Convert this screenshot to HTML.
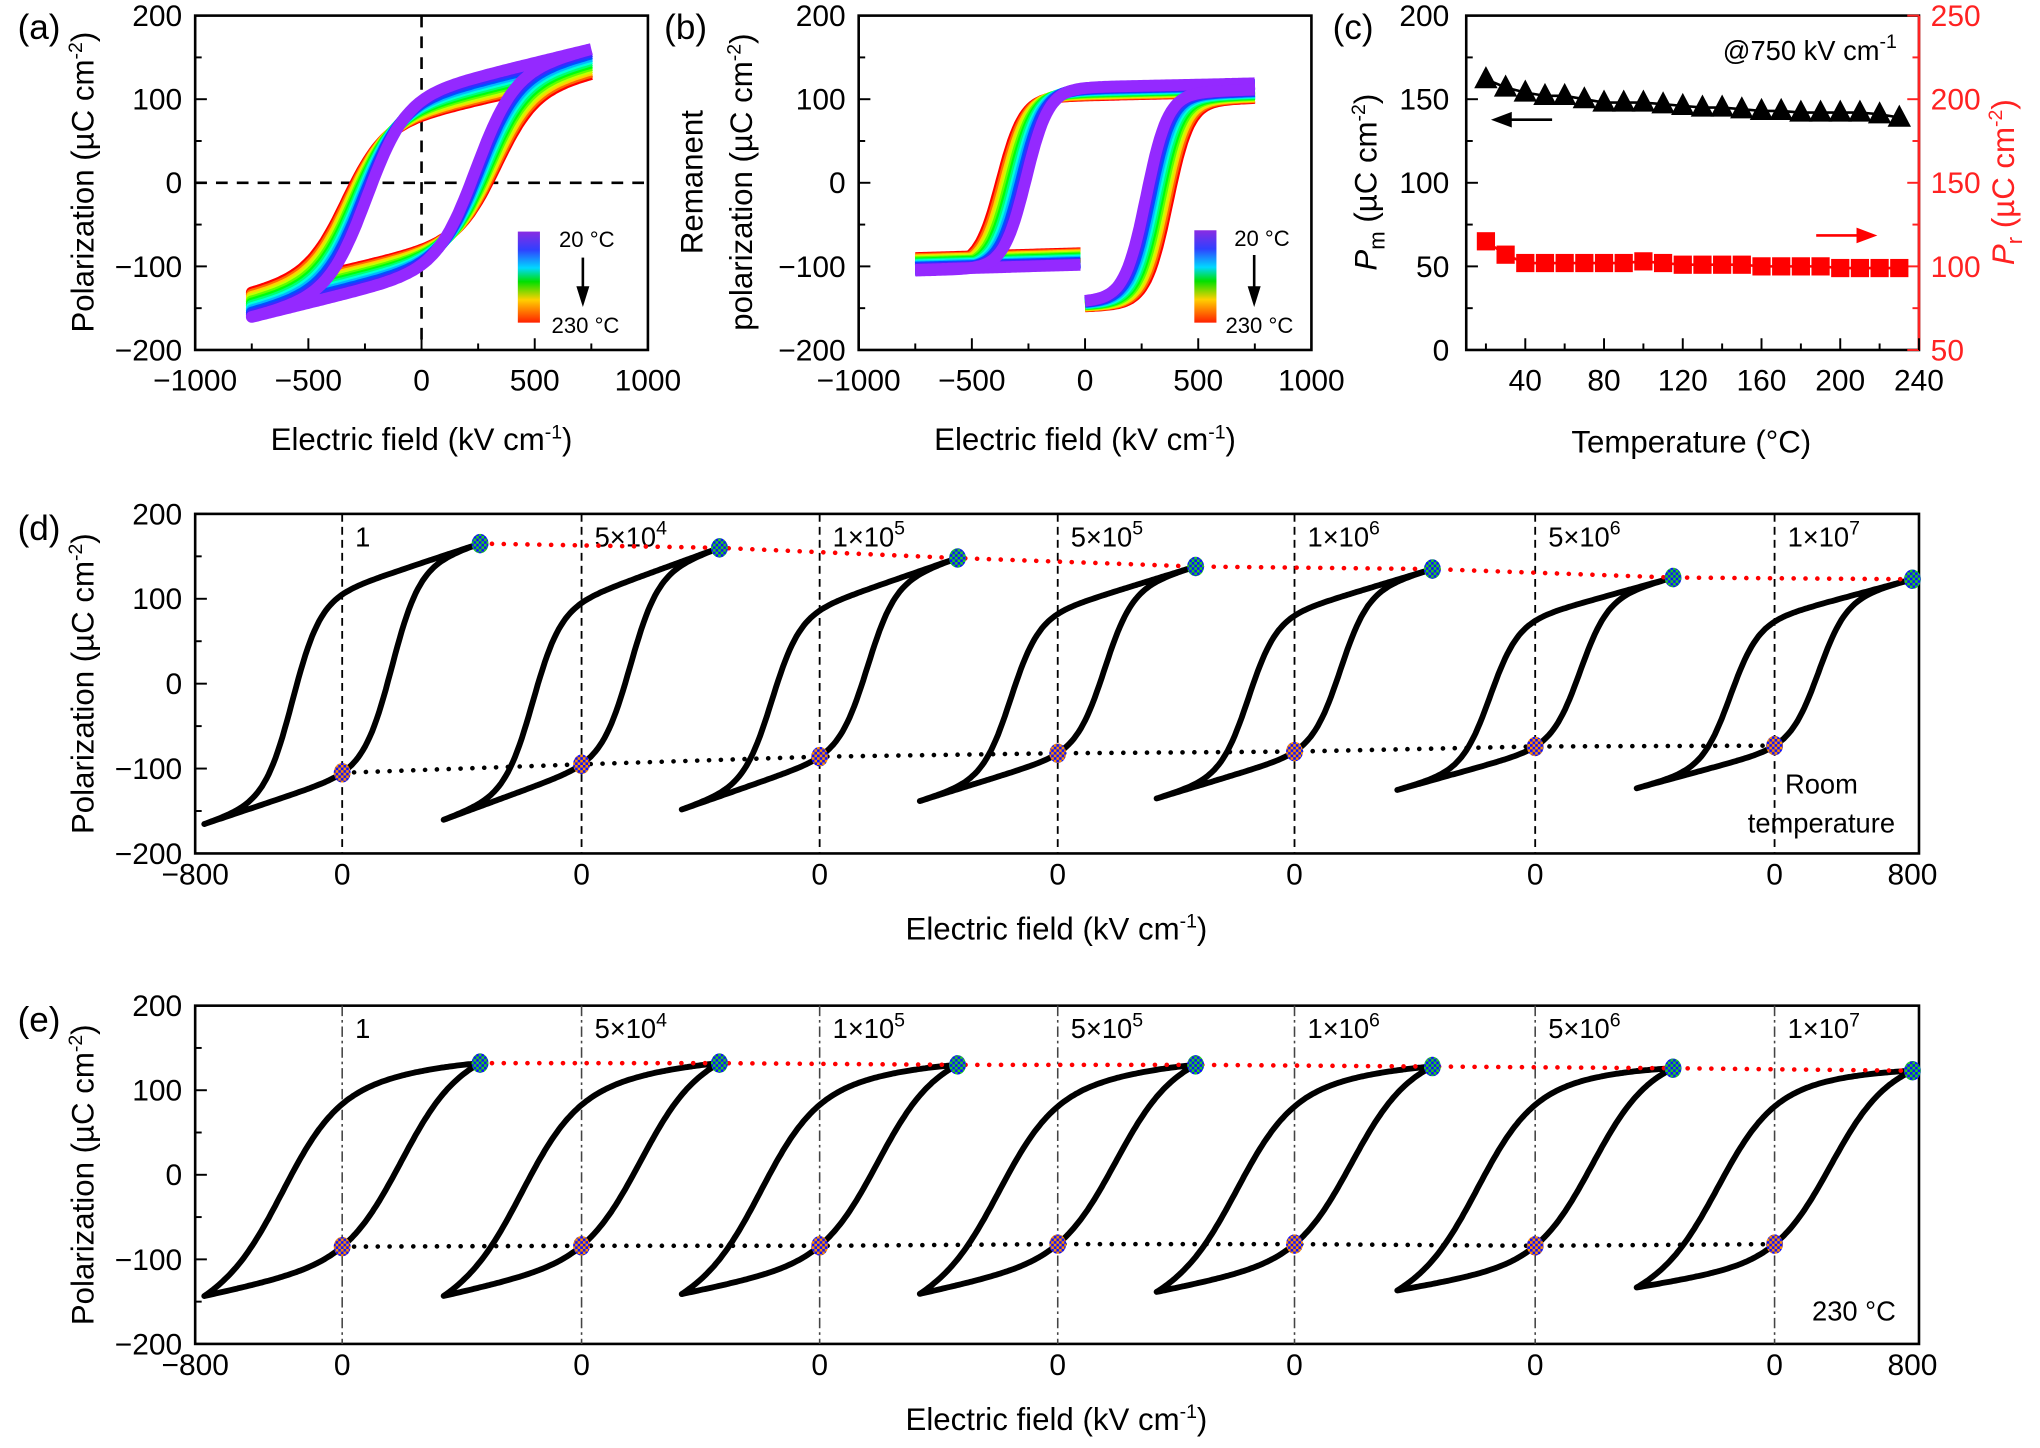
<!DOCTYPE html>
<html><head><meta charset="utf-8">
<style>
html,body{margin:0;padding:0;background:#fff;}
svg{display:block;}
text{font-family:"Liberation Sans",Arial,sans-serif;}
</style></head>
<body>
<svg id="s" width="2040" height="1448" viewBox="0 0 1568 1113" xmlns="http://www.w3.org/2000/svg">
<defs>
<pattern id="pg" width="4" height="4" patternUnits="userSpaceOnUse"><rect width="4" height="4" fill="#22cc22"/><rect width="2" height="2" fill="#1010ff"/><rect x="2" y="2" width="2" height="2" fill="#1010ff"/></pattern>
<pattern id="po" width="4" height="4" patternUnits="userSpaceOnUse"><rect width="4" height="4" fill="#ff8c00"/><rect width="2" height="2" fill="#1010ff"/><rect x="2" y="2" width="2" height="2" fill="#1010ff"/></pattern>
<linearGradient id="rb" x1="0" y1="0" x2="0" y2="1">
<stop offset="0" stop-color="#8a2be2"/><stop offset="0.2" stop-color="#3040ff"/><stop offset="0.4" stop-color="#00d8ff"/><stop offset="0.55" stop-color="#00e000"/><stop offset="0.75" stop-color="#ffd000"/><stop offset="1" stop-color="#ff2000"/>
</linearGradient>
</defs>
<g id="g"></g>
</svg>
<script>
var out=[];
function T(x,y,s,o){o=o||{};out.push('<text x="'+x+'" y="'+y+'" font-size="'+(o.fs||22)+'" text-anchor="'+(o.a||'middle')+'" fill="'+(o.c||'#000')+'"'+(o.tr?' transform="'+o.tr+'"':'')+'>'+s+'</text>');}
function L(x1,y1,x2,y2,st){out.push('<line x1="'+x1+'" y1="'+y1+'" x2="'+x2+'" y2="'+y2+'" '+(st||'stroke="#000" stroke-width="1.5"')+'/>');}
function P(d,st){out.push('<path d="'+d+'" fill="none" '+st+'/>');}
var sup=function(s){return '<tspan dy="-9" font-size="15">'+s+'</tspan>';};
var unitL='(µC cm'+sup('-2')+'<tspan dy="9">)</tspan>';
function th(x){return Math.tanh(x);}
function loopPts(A,Ec,w,b,Em){
  function up(E){return A*th((E+Ec)/w)+b*E;}
  function lo(E){return A*th((E-Ec)/w)+b*E;}
  var d=up(Em)-lo(Em),pts=[],n=120,i,E,u;
  for(i=0;i<=n;i++){E=Em-2*Em*i/n;u=E/Em;pts.push([E,up(E)-d*(Math.pow((1+u)/2,4)+Math.pow((1-u)/2,4))]);}
  for(i=0;i<=n;i++){E=-Em+2*Em*i/n;pts.push([E,lo(E)]);}
  return pts;
}
function mkLoop(Pr,Ec,w,Pm,Em){var A=Pr/th(Ec/w);var b=(Pm-A*th((Em-Ec)/w))/Em;return {A:A,b:b,pts:loopPts(A,Ec,w,b,Em)};}
function toPath(pts,fx,fy){return pts.map(function(p,i){return (i?'L':'M')+fx(p[0]).toFixed(1)+' '+fy(p[1]).toFixed(1);}).join(' ');}
function col(t){var h=t*270;return 'hsl('+h+',100%,'+(t>0.85?58:50)+'%)';}

(function(){
var ax=function(E){return 324+E*0.174;}, ay=function(P){return 140.5-P*0.6425;};
L(324,12,324,269,'stroke="#000" stroke-width="2" stroke-dasharray="9,7"');
L(150,140.5,498,140.5,'stroke="#000" stroke-width="2" stroke-dasharray="9,7"');
for(var k=0;k<12;k++){var t=k/11;var lp=mkLoop(80+18*t,330-90*t,170,130+30*t,750);
  P(toPath(lp.pts,ax,ay),'stroke="'+col(t)+'" stroke-width="9" stroke-linejoin="round"');}
var bx=function(E){return 834+E*0.174;};
function sig(E,c,w,lo,hi){return lo+(hi-lo)/(1+Math.exp(-(E-c)/w));}
for(var k=0;k<12;k++){var t=k/11;var p1=[],p2=[],p3=[],E;
  var c1=-370+110*t, c2=365-95*t, lv=-90-14*t, tp=100+10*t;
  for(E=-750;E<=750;E+=10)p1.push([E,sig(E,c1,50,-105+(1-t)*4,tp)+0.006*(E+750)]);
  for(E=-750;E<=-20;E+=10)p2.push([E,lv+0.008*(E+750)]);
  for(E=0;E<=750;E+=10)p3.push([E,sig(E,c2,48,-148+6*t,tp-6)+0.01*E]);
  var st='stroke="'+col(t)+'" stroke-width="9" stroke-linejoin="round"';
  P(toPath(p2,bx,ay),st);P(toPath(p1,bx,ay),st);P(toPath(p3,bx,ay),st);}
out.push('<rect x="398" y="178" width="17" height="70" fill="url(#rb)"/>');
out.push('<rect x="918" y="177" width="17" height="71" fill="url(#rb)"/>');
T(451,190,'20 °C',{fs:17});T(450,256,'230 °C',{fs:17});
T(970,189,'20 °C',{fs:17});T(968,256,'230 °C',{fs:17});
[[448,198],[964,196]].forEach(function(a){L(a[0],a[1],a[0],222,'stroke="#000" stroke-width="2"');out.push('<polygon points="'+(a[0]-5)+',220 '+(a[0]+5)+',220 '+a[0]+',236" fill="#000"/>');});
[[150,498,324],[660,1008,834]].forEach(function(q){
  out.push('<rect x="'+q[0]+'" y="12" width="'+(q[1]-q[0])+'" height="257" fill="none" stroke="#000" stroke-width="2"/>');
  for(var v=-200;v<=200;v+=50){var y=ay(v);L(q[0],y,q[0]+(v%100==0?9:5),y);}
  [200,100,0,-100,-200].forEach(function(v){T(q[0]-10,ay(v)+8,(v<0?'−':'')+Math.abs(v),{a:'end',fs:23});});
  for(var E=-1000;E<=1000;E+=250){var x=q[2]+E*0.174;L(x,269,x,269-(E%500==0?9:5));}
  [-1000,-500,0,500,1000].forEach(function(E){T(q[2]+E*0.174,300,(E<0?'−':'')+Math.abs(E),{fs:23});});
  T(q[2],346,'Electric field (kV cm'+sup('-1')+'<tspan dy="9">)</tspan>',{fs:24});
});
T(30,30,'(a)',{fs:27});T(527,30,'(b)',{fs:27});
T(72,140,'Polarization '+unitL,{fs:24,tr:'rotate(-90 72 140)'});
T(540,140,'Remanent',{fs:24,tr:'rotate(-90 540 140)'});
T(578,140,'polarization '+unitL,{fs:24,tr:'rotate(-90 578 140)'});
var cx=function(T_){return 1127+(T_-10)*(348/230);}, cyL=function(v){return 269-v*1.285;}, cyR=function(v){return 269-(v-50)*1.285;};
out.push('<rect x="1127" y="12" width="348" height="257" fill="none" stroke="#000" stroke-width="2"/>');
L(1475,12,1475,269,'stroke="#f22" stroke-width="2"');
for(var v=0;v<=200;v+=25){L(1127,cyL(v),1127+(v%50==0?9:5),cyL(v));}
for(var v=50;v<=250;v+=25){L(1475,cyR(v),1475-(v%50==0?9:5),cyR(v),'stroke="#f22" stroke-width="1.5"');}
[200,150,100,50,0].forEach(function(v){T(1114,cyL(v)+8,''+v,{a:'end',fs:23});});
[250,200,150,100,50].forEach(function(v){T(1484,cyR(v)+8,''+v,{a:'start',c:'#f22',fs:23});});
for(var t=20;t<=240;t+=20){L(cx(t),269,cx(t),269-(t%40==0?9:5));}
[40,80,120,160,200,240].forEach(function(t){T(cx(t),300,''+t,{fs:23});});
T(1300,348,'Temperature (°C)',{fs:24});
T(1040,30,'(c)',{fs:27});
T(1058,140,'<tspan font-style="italic">P</tspan><tspan dy="6" font-size="17">m</tspan><tspan dy="-6"> </tspan>'+unitL,{fs:24,tr:'rotate(-90 1058 140)'});
T(1548,140,'<tspan font-style="italic">P</tspan><tspan dy="6" font-size="17">r</tspan><tspan dy="-6"> </tspan>'+unitL,{fs:24,tr:'rotate(-90 1548 140)',c:'#f22'});
T(1458,46,'@750 kV cm'+sup('-1'),{fs:21,a:'end'});
L(1160,92,1193,92,'stroke="#000" stroke-width="2"');out.push('<polygon points="1146,92 1162,86 1162,98" fill="#000"/>');
L(1396,181,1428,181,'stroke="#f00" stroke-width="2"');out.push('<polygon points="1443,181 1427,175 1427,187" fill="#f00"/>');
var pmv=[162,157,154,152,152,150,148,148,148,147,146,145,145,144,143,143,142,142,142,142,141,139,137,134];
var prv=[115,107,102,102,102,102,102,102,103,102,101,101,101,101,100,100,100,100,99,99,99,99,99,97];
var pl='',pl2='';
for(var i=0;i<22;i++){var t=20+i*10;var ya=cyL(pmv[i]);var yr=cyR(prv[i]);pl+=(i?'L':'M')+cx(t)+' '+ya;pl2+=(i?'L':'M')+cx(t)+' '+yr;
 out.push('<polygon points="'+(cx(t)-9)+','+(ya+7)+' '+(cx(t)+9)+','+(ya+7)+' '+cx(t)+','+(ya-10)+'" fill="#000"/>');
 out.push('<rect x="'+(cx(t)-7)+'" y="'+(yr-7)+'" width="14" height="14" fill="#f00"/>');}
P(pl,'stroke="#000" stroke-width="2"');P(pl2,'stroke="#f00" stroke-width="2"');
var zeros=[263,447,630,813,995,1180,1364];
var labs=['1','5×10'+sup('4'),'1×10'+sup('5'),'5×10'+sup('5'),'1×10'+sup('6'),'5×10'+sup('6'),'1×10'+sup('7')];
function panel(y0,y1,pr,pm,ec,w,dash,note,lab){
  var mid=(y0+y1)/2,sy=(y1-y0)/400;
  var fy=function(P){return mid-P*sy;};
  out.push('<rect x="150" y="'+y0+'" width="1325" height="'+(y1-y0)+'" fill="none" stroke="#000" stroke-width="2"/>');
  for(var v=-200;v<=200;v+=50){L(150,fy(v),150+(v%100==0?9:5),fy(v));}
  [200,100,0,-100,-200].forEach(function(v){T(140,fy(v)+8,(v<0?'−':'')+Math.abs(v),{a:'end',fs:23});});
  T(150,y1+24,'−800',{fs:23});T(1470,y1+24,'800',{fs:23});
  var tips=[],lows=[];
  zeros.forEach(function(z,i){
    L(z,y0,z,y1,dash);
    T(z+10,y0+25,labs[i],{fs:21,a:'start'});
    T(z,y1+24,'0',{fs:23});
    var lp=mkLoop(pr[i],ec[i],w,pm[i],750);
    var fx=function(E){return z+E*0.1413;};
    P(toPath(lp.pts,fx,fy),'stroke="#000" stroke-width="4.5" stroke-linejoin="round"');
    tips.push([fx(750),fy(pm[i])]);lows.push([z,fy(-pr[i])]);
  });
  P(tips.map(function(p,i){return (i?'L':'M')+p[0]+' '+p[1];}).join(' '),'stroke="#f00" stroke-width="3.5" stroke-dasharray="0.1,9" stroke-linecap="round"');
  P(lows.map(function(p,i){return (i?'L':'M')+p[0]+' '+p[1];}).join(' '),'stroke="#000" stroke-width="3.5" stroke-dasharray="0.1,9" stroke-linecap="round"');
  tips.forEach(function(p){out.push('<ellipse cx="'+p[0]+'" cy="'+p[1]+'" rx="6.5" ry="7.5" fill="url(#pg)"/>');});
  lows.forEach(function(p){out.push('<ellipse cx="'+p[0]+'" cy="'+p[1]+'" rx="6.5" ry="7.5" fill="url(#po)"/>');});
  T(30,y0+20,lab,{fs:27});
  T(72,mid,'Polarization '+unitL,{fs:24,tr:'rotate(-90 72 '+mid+')'});
  T(812,y1+66,'Electric field (kV cm'+sup('-1')+'<tspan dy="9">)</tspan>',{fs:24});
  note();
}
panel(395,656,[105,95,86,82,80,74,73],[165,160,148,138,135,125,123],[270,265,260,255,250,245,240],150,
 'stroke="#000" stroke-width="1.4" stroke-dasharray="6,4"',
 function(){T(1400,610,'Room',{fs:21});T(1400,640,'temperature',{fs:21});},'(d)');
panel(773,1033,[85,84,84,82,82,84,82],[132,132,130,130,128,126,123],[320,320,315,315,310,310,305],300,
 'stroke="#444" stroke-width="1.2" stroke-dasharray="8,3,2,3"',
 function(){T(1425,1015,'230 °C',{fs:21});},'(e)');
})();
document.getElementById('g').innerHTML=out.join('');
</script>
</body></html>
